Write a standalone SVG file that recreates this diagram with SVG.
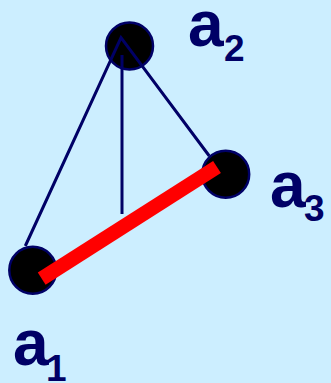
<svg xmlns="http://www.w3.org/2000/svg" width="331" height="383" viewBox="0 0 331 383">
<style>
.bg{fill:#cceeff}
.node{fill:#000000;stroke:#000066;stroke-width:2.5}
.thin{stroke:#000066;stroke-width:3;fill:none}
.red{stroke:#ff0000;stroke-width:14.5;stroke-linecap:butt}
.lbl{font-family:"Liberation Sans",Arial,sans-serif;font-weight:bold;fill:#000066}
.big{font-size:64px}
.sub{font-size:37px}
</style>
<rect class="bg" x="0" y="0" width="331" height="383"/>
<g id="node-a2"><circle class="node" cx="129.5" cy="46" r="23.5"/></g>
<g id="node-a3"><circle class="node" cx="225.7" cy="174.3" r="23.5"/></g>
<g id="node-a1"><circle class="node" cx="32.8" cy="270.3" r="23.5"/></g>
<g id="connectors">
<polyline class="thin" points="25.3,246 121,37.7 209.3,156"/>
<line class="thin" x1="122" y1="55" x2="122" y2="214"/>
<line class="red" x1="41.7" y1="278.7" x2="217" y2="167"/>
</g>
<g id="label-a2"><text class="lbl"><tspan class="big" x="188" y="46">a</tspan><tspan class="sub" x="224" y="60.5">2</tspan></text></g>
<g id="label-a3"><text class="lbl"><tspan class="big" x="270" y="207">a</tspan><tspan class="sub" x="304" y="221">3</tspan></text></g>
<g id="label-a1"><text class="lbl"><tspan class="big" x="13" y="365">a</tspan><tspan class="sub" x="46" y="381">1</tspan></text></g>
</svg>
